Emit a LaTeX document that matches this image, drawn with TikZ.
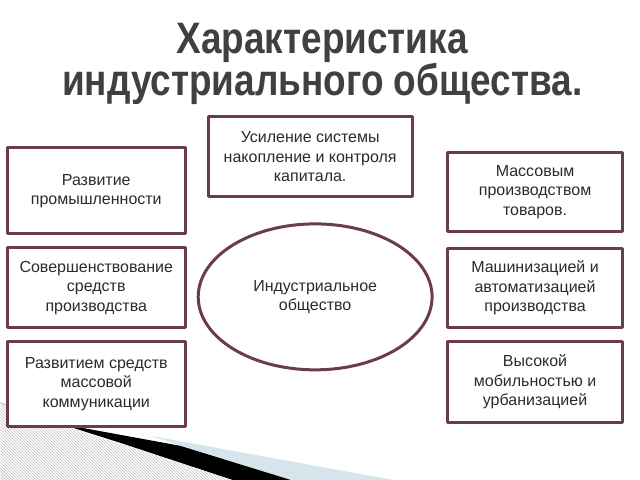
\documentclass[tikz,border=0pt]{standalone}
\usepackage{fontspec}
\setmainfont{Liberation Sans}
\newfontfamily\titlefont[FakeStretch=0.84]{Liberation Sans}
\usetikzlibrary{positioning,patterns,shapes.geometric}
\definecolor{indMaroon}{HTML}{6B3E47}
\definecolor{indInk}{HTML}{2B2B2B}
\definecolor{indTitle}{HTML}{404040}
\definecolor{indSky}{HTML}{D5E5EB}
\definecolor{indHatch}{HTML}{B0B0B0}

\begin{document}
\begin{tikzpicture}[x=1pt,y=-1pt,line join=round]
\path[fill=white] (0,0) rectangle (640,480);
% slide decoration, bottom left
\path[fill=indSky] (150,436) -- (392,480) -- (290,480) -- cycle;
\path[fill=black] (60,424) -- (180,446) -- (290,480) -- (232,480) -- (120,443) -- cycle;
\path[pattern=north west lines,pattern color=indHatch] (0,403) -- (62,426) -- (120,444) -- (231,480) -- (0,480) -- cycle;
\draw[indHatch,line width=0.6pt] (0,403) -- (62,426);
\tikzset{card/.style={draw=indMaroon,fill=white,line width=3pt,align=center,text=indInk,font=\fontsize{16}{19.5}\selectfont,inner sep=0pt},hub/.style={card,ellipse}}
\node[text=indTitle,font=\titlefont\bfseries\fontsize{44}{40}\selectfont,align=center] (title) at (322,64) {Характеристика\\индустриального общества.};
\node[card,minimum width=204pt,minimum height=80pt] (kapital) at (310,157) {Усиление системы\\накопление и контроля\\капитала.};
\node[hub,minimum width=234pt,minimum height=146pt] (obsh) at (315,297) {Индустриальное\\общество};
\node[card,minimum width=178pt,minimum height=86pt] (prom) at (96,191) {Развитие\\промышленности};
\node[card,minimum width=178pt,minimum height=80pt] (sredstva) at (96,288) {Совершенствование\\средств\\производства};
\node[card,minimum width=178pt,minimum height=85pt] (kommun) at (96,384) {Развитием средств\\массовой\\коммуникации};
\node[card,minimum width=175pt,minimum height=79pt] (tovary) at (535,192) {Массовым\\производством\\товаров.};
\node[card,minimum width=175pt,minimum height=79pt] (mashin) at (535,288) {Машинизацией и\\автоматизацией\\производства};
\node[card,minimum width=175pt,minimum height=81pt] (urban) at (535,382) {Высокой\\мобильностью и\\урбанизацией};
\end{tikzpicture}
\end{document}
